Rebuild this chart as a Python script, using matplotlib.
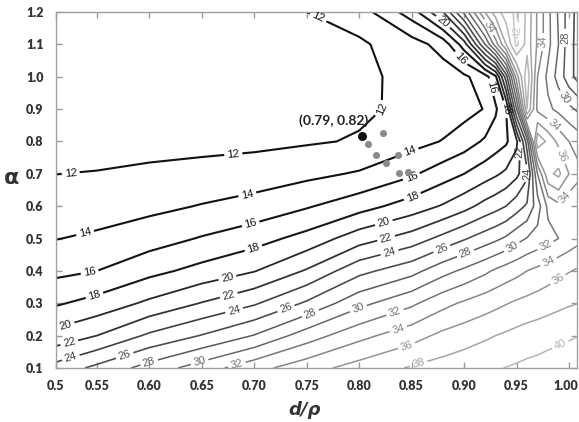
import numpy as np
import matplotlib
matplotlib.use("Agg")
import matplotlib.pyplot as plt
from matplotlib.transforms import ScaledTranslation

# ---- data (axis coordinates as labelled) ----
d_rho = [0.50, 0.55, 0.60, 0.65, 0.70, 0.75, 0.80, 0.85, 0.88, 0.90,
         0.92, 0.93, 0.94, 0.95, 0.96, 0.97, 0.98, 0.99, 1.00, 1.01]
alpha = [0.1, 0.2, 0.3, 0.4, 0.5, 0.6, 0.7, 0.8, 0.9, 1.0, 1.1, 1.2]

z_a010 = [24.3, 26.5, 28.8, 31.0, 33.3, 35.2, 36.8, 38.2, 38.8, 39.2, 39.6, 39.85, 40.05, 40.25, 40.45, 40.6, 40.8, 40.9, 41.0, 41.1]
z_a020 = [20.4, 22.0, 24.35, 26.1, 28.1, 31.0, 33.4, 35.2, 36.5, 37.1, 37.7, 38.0, 38.3, 38.6, 38.9, 39.1, 39.35, 39.6, 39.8, 40.0]
z_a030 = [17.5, 18.7, 20.4, 22.1, 23.75, 26.3, 29.4, 31.6, 33.4, 34.3, 35.1, 35.5, 35.9, 36.3, 36.6, 36.9, 37.2, 37.5, 37.8, 38.0]
z_a040 = [15.4, 16.0, 17.4, 18.65, 19.9, 22.2, 25.4, 27.3, 29.3, 30.4, 31.6, 32.3, 32.9, 33.4, 34.0, 34.5, 35.0, 35.5, 35.9, 36.3]
z_a050 = [13.85, 14.3, 15.1, 16.15, 17.2, 18.7, 21.1, 22.9, 24.6, 25.8, 27.0, 27.6, 28.3, 29.3, 30.1, 30.7, 31.3, 32.0, 32.8, 33.5]
z_a060 = [12.9, 13.14, 13.5, 14.1, 14.7, 15.8, 17.2, 18.9, 20.2, 21.3, 22.7, 23.3, 24.0, 25.1, 26.3, 29.0, 32.5, 33.5, 32.5, 32.0]
z_a070 = [11.95, 12.1, 12.4, 12.7, 13.0, 13.5, 14.2, 15.7, 17.1, 18.0, 19.1, 19.7, 20.4, 21.5, 23.5, 32.0, 37.5, 38.5, 36.0, 34.5]
z_a080 = [11.0, 11.1, 11.25, 11.35, 11.5, 11.8, 12.15, 13.3, 14.1, 15.0, 16.3, 17.0, 17.7, 19.5, 27.0, 39.5, 37.5, 35.5, 34.0, 33.0]
z_a090 = [10.6, 10.7, 10.8, 10.9, 11.0, 11.3, 11.7, 12.4, 12.9, 13.3, 14.1, 15.7, 18.0, 28.0, 40.0, 33.5, 32.4, 31.5, 30.5, 29.5]
z_a100 = [10.5, 10.6, 10.7, 10.8, 10.9, 11.2, 11.6, 12.5, 13.0, 13.6, 15.2, 17.6, 25.0, 35.0, 41.5, 34.0, 31.5, 29.2, 26.8, 25.0]
z_a110 = [10.5, 10.6, 10.7, 10.8, 11.0, 11.3, 11.7, 13.1, 14.8, 19.0, 28.0, 33.0, 38.0, 42.5, 39.2, 35.7, 32.6, 30.0, 26.8, 25.0]
z_a120 = [10.5, 10.6, 10.8, 11.0, 11.4, 12.0, 13.0, 17.0, 22.0, 28.5, 36.0, 39.0, 41.0, 42.5, 39.5, 35.7, 32.6, 29.7, 27.0, 25.0]

levels = [12, 14, 16, 18, 20, 22, 24, 26, 28, 30, 32, 34, 36, 38, 40, 42]

opt_point = (0.803, 0.816)
opt_label = "(0.79, 0.82)"
near_x = [0.8225, 0.808, 0.816, 0.837, 0.8255, 0.838, 0.847]
near_y = [0.827, 0.791, 0.757, 0.757, 0.734, 0.701, 0.706]

x_ticks = [0.511, 0.55, 0.60, 0.65, 0.70, 0.75, 0.80, 0.85, 0.90, 0.95, 1.00]
x_tick_labels = ["0.5", "0.55", "0.60", "0.65", "0.70", "0.75", "0.80", "0.85", "0.90", "0.95", "1.00"]
y_ticks = [0.1, 0.2, 0.3, 0.4, 0.5, 0.6, 0.7, 0.8, 0.9, 1.0, 1.1, 1.2]
y_tick_labels = ["0.1", "0.2", "0.3", "0.4", "0.5", "0.6", "0.7", "0.8", "0.9", "1.0", "1.1", "1.2"]

# where the contour labels sit in the reference (label placement only)
label_spots = [
    (0.525, 0.70), (0.54, 0.50), (0.543, 0.397), (0.548, 0.32), (0.521, 0.224),
    (0.524, 0.174), (0.526, 0.122), (0.577, 0.134), (0.60, 0.115), (0.648, 0.118),
    (0.683, 0.115),
    (0.68, 0.76), (0.694, 0.627), (0.697, 0.54), (0.699, 0.472), (0.674, 0.385),
    (0.675, 0.332), (0.68, 0.289), (0.729, 0.295), (0.753, 0.273), (0.799, 0.286),
    (0.834, 0.273), (0.837, 0.224), (0.845, 0.171), (0.857, 0.109),
    (0.834, 0.884), (0.762, 1.19), (0.85, 0.754), (0.85, 0.689), (0.851, 0.627),
    (0.824, 0.543), (0.826, 0.497), (0.829, 0.456), (0.879, 0.466), (0.902, 0.45),
    (0.946, 0.472), (0.978, 0.475), (0.981, 0.425), (0.991, 0.366), (0.993, 0.162),
    (0.896, 1.054), (0.926, 0.968), (0.94, 0.90), (0.952, 0.77), (0.958, 0.70),
    (0.88, 1.17), (0.924, 1.154), (0.95, 1.14), (0.975, 1.107),
    (1.0, 1.12), (0.999, 0.94), (0.985, 0.85), (0.988, 0.75), (0.998, 0.62),
]

# ---- styles ----
line_colors = ['#111111', '#111111', '#141414', '#181818', '#262626', '#333333',
               '#404040', '#4d4d4d', '#5a5a5a', '#686868', '#767676', '#858585',
               '#949494', '#a4a4a4', '#b6b6b6', '#c8c8c8']
line_widths = [1.5, 1.5, 1.5, 1.5, 1.3, 1.3, 1.2, 1.2, 1.1, 1.1, 1.1, 1.1, 1.1, 1.1, 1.1, 1.1]

Z = np.array([z_a010, z_a020, z_a030, z_a040, z_a050, z_a060,
              z_a070, z_a080, z_a090, z_a100, z_a110, z_a120])
X, Y = np.meshgrid(d_rho, alpha)

fig = plt.figure(figsize=(5.79, 4.22), dpi=100)
ax = fig.add_axes([0.0967, 0.128, 0.8998, 0.8436])

ax.set_xlim(0.511, 1.0076)
ax.set_ylim(0.1, 1.2)

cs = ax.contour(X, Y, Z, levels=levels, colors=line_colors, linewidths=line_widths)
ax.clabel(cs, inline=True, fontsize=8, fmt='%d', inline_spacing=2, manual=label_spots)
for t in cs.labelTexts:
    t.set_family('Liberation Sans')
    t.set_clip_on(True)

ax.scatter(near_x, near_y, s=26, color='#8a8a8a', zorder=5, linewidths=0)
ax.scatter([opt_point[0]], [opt_point[1]], s=42, color='#111111', zorder=6, linewidths=0)
ax.annotate(opt_label, xy=opt_point, xytext=(-21, 11), textcoords='offset points',
            ha='center', va='center', fontsize=10, fontweight='bold',
            family='Lato', color='#222222')

ax.set_xticks(x_ticks)
ax.set_xticklabels(x_tick_labels)
ax.set_yticks(y_ticks)
ax.set_yticklabels(y_tick_labels)
ax.tick_params(direction='in', length=4, width=1, color='#999999',
               top=True, right=True, pad=9, labelsize=9, labelcolor='#333333')
for lab in ax.get_xticklabels() + ax.get_yticklabels():
    lab.set_family('Lato')
    lab.set_fontweight('heavy')
last = ax.get_xticklabels()[-1]
last.set_transform(last.get_transform() + ScaledTranslation(-3 / 100, 0, fig.dpi_scale_trans))
for sp in ax.spines.values():
    sp.set_color('#a0a0a0')
    sp.set_linewidth(1.0)

ax.set_xlabel('d/ρ', fontsize=13, fontweight='bold', fontstyle='italic',
              family='DejaVu Sans', color='#333333', va='center')
ax.xaxis.set_label_coords(0.478, -0.118)
ax.set_ylabel('α', fontsize=16, fontweight='bold', family='DejaVu Sans',
              color='#333333', rotation=0, va='center', ha='center')
ax.yaxis.set_label_coords(-0.0845, 0.534)

fig.savefig('out.png', dpi=100)
